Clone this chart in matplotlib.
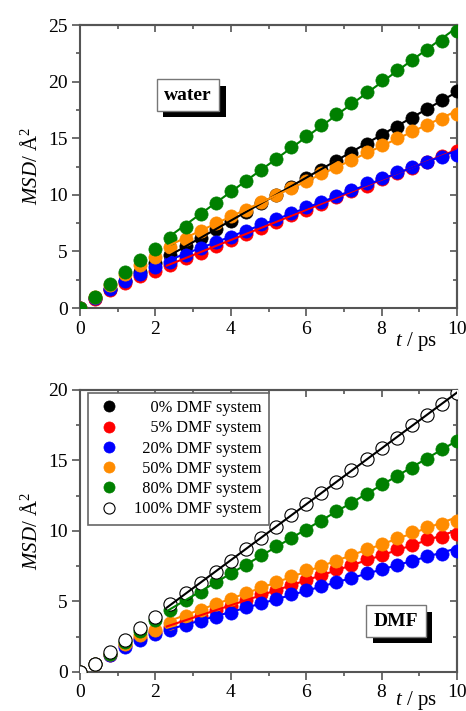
import numpy as np
import matplotlib
matplotlib.use('Agg')
import matplotlib.pyplot as plt
import matplotlib.patheffects as pe
from matplotlib.lines import Line2D
from matplotlib.ticker import MultipleLocator

plt.rcParams['font.family'] = ['Liberation Serif', 'DejaVu Serif']
plt.rcParams['mathtext.fontset'] = 'custom'
plt.rcParams['mathtext.rm'] = 'Liberation Serif'
plt.rcParams['mathtext.it'] = 'Liberation Serif:italic'

# Zeitachse in ps
t = [0.0, 0.4, 0.8, 1.2, 1.6, 2.0, 2.4, 2.8, 3.2, 3.6, 4.0, 4.4, 4.8,
     5.2, 5.6, 6.0, 6.4, 6.8, 7.2, 7.6, 8.0, 8.4, 8.8, 9.2, 9.6, 10.0]

# MSD von Wasser
water_0 = [0, 0.9, 1.7, 2.4, 3.2, 4.0, 4.7, 5.5, 6.2, 7.0, 7.7, 8.5, 9.3,
           10.0, 10.7, 11.5, 12.2, 13.0, 13.7, 14.5, 15.3, 16.0, 16.8, 17.6, 18.4, 19.2]
water_5 = [0, 0.8, 1.6, 2.2, 2.8, 3.3, 3.8, 4.4, 4.9, 5.5, 6.0, 6.5, 7.1,
           7.6, 8.2, 8.7, 9.2, 9.8, 10.3, 10.8, 11.4, 11.9, 12.4, 12.9, 13.4, 13.9]
water_20 = [0, 0.9, 1.7, 2.4, 3.0, 3.6, 4.1, 4.7, 5.3, 5.8, 6.3, 6.8, 7.4,
            7.9, 8.4, 8.9, 9.4, 9.9, 10.4, 11.0, 11.5, 12.0, 12.5, 12.9, 13.3, 13.5]
water_50 = [0, 1.0, 2.0, 3.0, 3.8, 4.5, 5.4, 6.1, 6.8, 7.5, 8.1, 8.7, 9.4,
            10.0, 10.6, 11.2, 11.9, 12.5, 13.1, 13.8, 14.4, 15.0, 15.6, 16.2, 16.7, 17.1]
water_80 = [0, 1.0, 2.1, 3.2, 4.2, 5.2, 6.2, 7.2, 8.3, 9.3, 10.3, 11.2, 12.2,
            13.2, 14.2, 15.2, 16.2, 17.1, 18.1, 19.1, 20.1, 21.0, 21.9, 22.8, 23.6, 24.5]

# MSD von DMF
dmf_5 = [0, 0.6, 1.2, 1.9, 2.4, 2.8, 3.2, 3.6, 4.0, 4.4, 4.7, 5.1, 5.5,
         5.8, 6.2, 6.5, 6.9, 7.3, 7.6, 8.0, 8.3, 8.7, 9.0, 9.4, 9.6, 9.8]
dmf_20 = [0, 0.6, 1.2, 1.8, 2.3, 2.7, 3.0, 3.3, 3.6, 3.9, 4.2, 4.6, 4.9,
          5.2, 5.5, 5.8, 6.1, 6.4, 6.7, 7.0, 7.3, 7.6, 7.9, 8.2, 8.4, 8.6]
dmf_50 = [0, 0.6, 1.3, 2.0, 2.6, 3.0, 3.5, 4.0, 4.4, 4.8, 5.2, 5.6, 6.0,
          6.4, 6.8, 7.2, 7.5, 7.9, 8.3, 8.7, 9.1, 9.5, 9.9, 10.3, 10.5, 10.7]
dmf_80 = [0, 0.6, 1.3, 2.1, 2.9, 3.7, 4.4, 5.1, 5.7, 6.4, 7.0, 7.6, 8.3,
          8.9, 9.5, 10.1, 10.7, 11.4, 12.0, 12.6, 13.3, 13.9, 14.5, 15.1, 15.8, 16.4]
dmf_100 = [0, 0.6, 1.4, 2.3, 3.1, 3.9, 4.8, 5.6, 6.3, 7.1, 7.9, 8.7, 9.5,
           10.3, 11.1, 11.9, 12.7, 13.5, 14.3, 15.1, 15.9, 16.6, 17.5, 18.2, 19.0, 19.8]

labels = ['0% DMF system', '5% DMF system', '20% DMF system',
          '50% DMF system', '80% DMF system', '100% DMF system']
colors = ['black', '#ff0000', '#0000ff', '#ff8c00', '#008000', 'black']

fit_start = 2.3  # Beginn der linearen Anpassung


def draw_series(ax, y, color, open_marker=False):
    x = np.array(t)
    y = np.array(y)
    face = 'white' if open_marker else color
    ax.plot(x, y, 'o', ms=9.5, mfc=face, mec=color, mew=0.8 if open_marker else 0.5,
            zorder=3)
    sel = x >= 2.4
    k, d = np.polyfit(x[sel], y[sel], 1)
    xf = np.array([fit_start, 10.0])
    ax.plot(xf, k * xf + d, '-', color=color, lw=1.5, zorder=4)


def style_axes(ax, ymax, tlab_off):
    ax.set_xlim(0, 10)
    ax.set_ylim(0, ymax)
    ax.xaxis.set_major_locator(MultipleLocator(2))
    ax.xaxis.set_minor_locator(MultipleLocator(1))
    ax.yaxis.set_major_locator(MultipleLocator(5))
    ax.yaxis.set_minor_locator(MultipleLocator(2.5))
    ax.tick_params(which='both', direction='out', color='#555555', width=1.2,
                   labelsize=14, pad=3)
    ax.tick_params(which='major', length=6)
    ax.tick_params(which='minor', length=3)
    for s in ax.spines.values():
        s.set_color('#555555')
        s.set_linewidth(1.5)
    top = ax.secondary_xaxis('top')
    top.xaxis.set_major_locator(MultipleLocator(2))
    top.xaxis.set_minor_locator(MultipleLocator(1))
    top.tick_params(which='both', direction='in', labeltop=False, color='#555555', width=1.2)
    top.tick_params(which='major', length=5)
    top.tick_params(which='minor', length=3)
    top.spines['top'].set_color('#555555')
    top.spines['top'].set_linewidth(1.5)
    right = ax.secondary_yaxis('right')
    right.yaxis.set_major_locator(MultipleLocator(5))
    right.yaxis.set_minor_locator(MultipleLocator(2.5))
    right.tick_params(which='both', direction='in', labelright=False, color='#555555', width=1.2)
    right.tick_params(which='major', length=5)
    right.tick_params(which='minor', length=3)
    right.spines['right'].set_color('#555555')
    right.spines['right'].set_linewidth(1.5)
    ax.set_ylabel(r'$\it{MSD}$/ Å$^2$', fontsize=15, labelpad=4)
    ax.text(0.891, -tlab_off, r'$\it{t}$ / ps', transform=ax.transAxes, fontsize=15,
            ha='center', va='center')


def shadow_box(ax, x, y, text):
    txt = ax.text(x, y, text, fontsize=14, fontweight='bold', ha='center', va='center',
                  zorder=6,
                  bbox=dict(boxstyle='square,pad=0.38', fc='white', ec='#777777', lw=1))
    txt.get_bbox_patch().set_path_effects(
        [pe.withSimplePatchShadow(offset=(4.5, -4.5), shadow_rgbFace='black', alpha=1.0)])


fig = plt.figure(figsize=(4.66, 7.11), dpi=100)
ax1 = fig.add_axes([0.1717, 0.5668, 0.809, 0.398])
ax2 = fig.add_axes([0.1717, 0.0549, 0.809, 0.3966])

# oben: Wasser
for y, c in zip([water_0, water_5, water_20, water_50, water_80], colors[:5]):
    draw_series(ax1, y, c)
style_axes(ax1, 25, 0.117)
shadow_box(ax1, 2.87, 18.8, 'water')

# unten: DMF
for y, c in zip([dmf_5, dmf_20, dmf_50, dmf_80], colors[1:5]):
    draw_series(ax2, y, c)
draw_series(ax2, dmf_100, 'black', open_marker=True)
style_axes(ax2, 20, 0.100)
shadow_box(ax2, 8.38, 3.6, 'DMF')

# Legende rechtsbündig: mit En-Spaces (= Ziffernbreite) auffüllen
maxlen = max(len(s) for s in labels)
padded = ['\u2002' * (maxlen - len(s)) + s for s in labels]

handles = []
for i, (lab, c) in enumerate(zip(labels, colors)):
    face = 'white' if i == 5 else c
    handles.append(Line2D([], [], ls='none', marker='o', ms=8, mfc=face, mec=c,
                          mew=0.8 if i == 5 else 0.5))
leg = ax2.legend(handles, padded, loc='upper left', bbox_to_anchor=(0.022, 0.99),
                 fontsize=11.8, frameon=True, fancybox=False, edgecolor='#666666',
                 framealpha=1, borderpad=0.45, labelspacing=0.26, handlelength=1.6,
                 handletextpad=0.75, borderaxespad=0)
leg.get_frame().set_linewidth(1.2)
leg.set_zorder(7)

fig.savefig('out.png', dpi=100)
